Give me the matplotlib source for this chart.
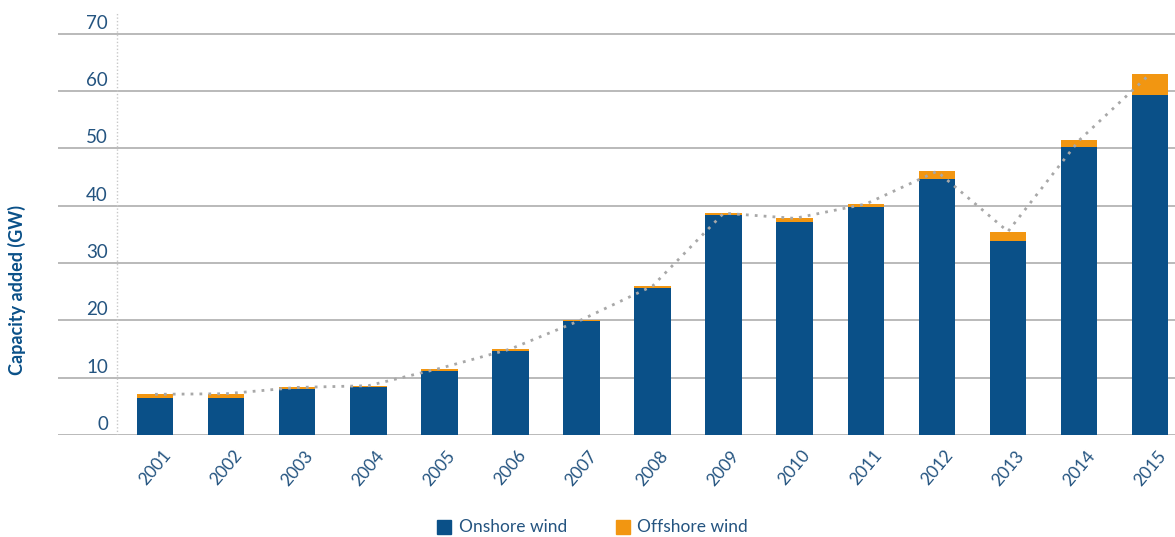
import matplotlib
matplotlib.use("Agg")
import matplotlib.pyplot as plt
import matplotlib.transforms as mtransforms
from matplotlib.patches import Rectangle
import numpy as np

years = ["2001", "2002", "2003", "2004", "2005", "2006", "2007", "2008",
         "2009", "2010", "2011", "2012", "2013", "2014", "2015"]
onshore = [6.5, 6.5, 8.1, 8.3, 11.2, 14.6, 19.9, 25.6, 38.3, 37.1, 39.8, 44.7, 33.8, 50.2, 59.4]
offshore = [0.6, 0.7, 0.2, 0.3, 0.4, 0.4, 0.2, 0.4, 0.4, 0.7, 0.5, 1.3, 1.7, 1.2, 3.6]
yticks = [0, 10, 20, 30, 40, 50, 60, 70]

BLUE = "#0a5088"
ORANGE = "#f29611"
TEXT = "#245480"
GRID = "#b4b4b4"

plt.rcParams['font.family'] = ['Lato', 'DejaVu Sans']

fig = plt.figure(figsize=(11.75, 5.37), dpi=100)
ax = fig.add_axes([58/1175, 1 - 435/537, 1 - 58/1175, (435 - 12)/537])

x = np.arange(len(years))
total = np.array(onshore) + np.array(offshore)

ax.bar(x, onshore, width=0.515, color=BLUE, zorder=2)
ax.bar(x, offshore, bottom=onshore, width=0.515, color=ORANGE, zorder=2)
ax.plot(x, total, color="#a8a8a8", linestyle=(0, (1, 2.2)), linewidth=2, zorder=3)

ax.set_xlim(-1.365, 14.35)
ax.set_ylim(0, 73.8)

for v in yticks:
    ax.axhline(v, color=GRID, linewidth=1.3, zorder=1)
ax.axvline(-0.535, color="#c8c8c8", linestyle=(0, (1, 1.5)), linewidth=1, zorder=1)

for s in ax.spines.values():
    s.set_visible(False)
ax.set_yticks([])
ax.set_xticks(x)
ax.set_xticklabels(years, rotation=50, ha="center", va="top", color=TEXT, fontsize=12.5)
ax.tick_params(axis="x", length=0, pad=9)

trans = mtransforms.blended_transform_factory(ax.transAxes, ax.transData)
off = mtransforms.offset_copy(trans, fig=fig, x=0, y=5, units="dots")
for v in yticks:
    ax.text((108 - 58) / (1175 - 58), v, str(v), transform=off, ha="right", va="baseline",
            color=TEXT, fontsize=13.5)

fig.text(17/1175, 1 - 290/537, "Capacity added (GW)", rotation=90, ha="center", va="center",
         color=BLUE, fontsize=13, fontweight="bold")

# legend
ly = 1 - 527/537
sq_w = 14/1175
sq_h = 14/537
fig.patches.append(Rectangle((437/1175, ly - sq_h/2), sq_w, sq_h, transform=fig.transFigure,
                             color=BLUE, figure=fig))
fig.text(459/1175, ly, "Onshore wind", ha="left", va="center", color=TEXT, fontsize=12.5)
fig.patches.append(Rectangle((616/1175, ly - sq_h/2), sq_w, sq_h, transform=fig.transFigure,
                             color=ORANGE, figure=fig))
fig.text(637/1175, ly, "Offshore wind", ha="left", va="center", color=TEXT, fontsize=12.5)

fig.savefig("out.png", dpi=100)
